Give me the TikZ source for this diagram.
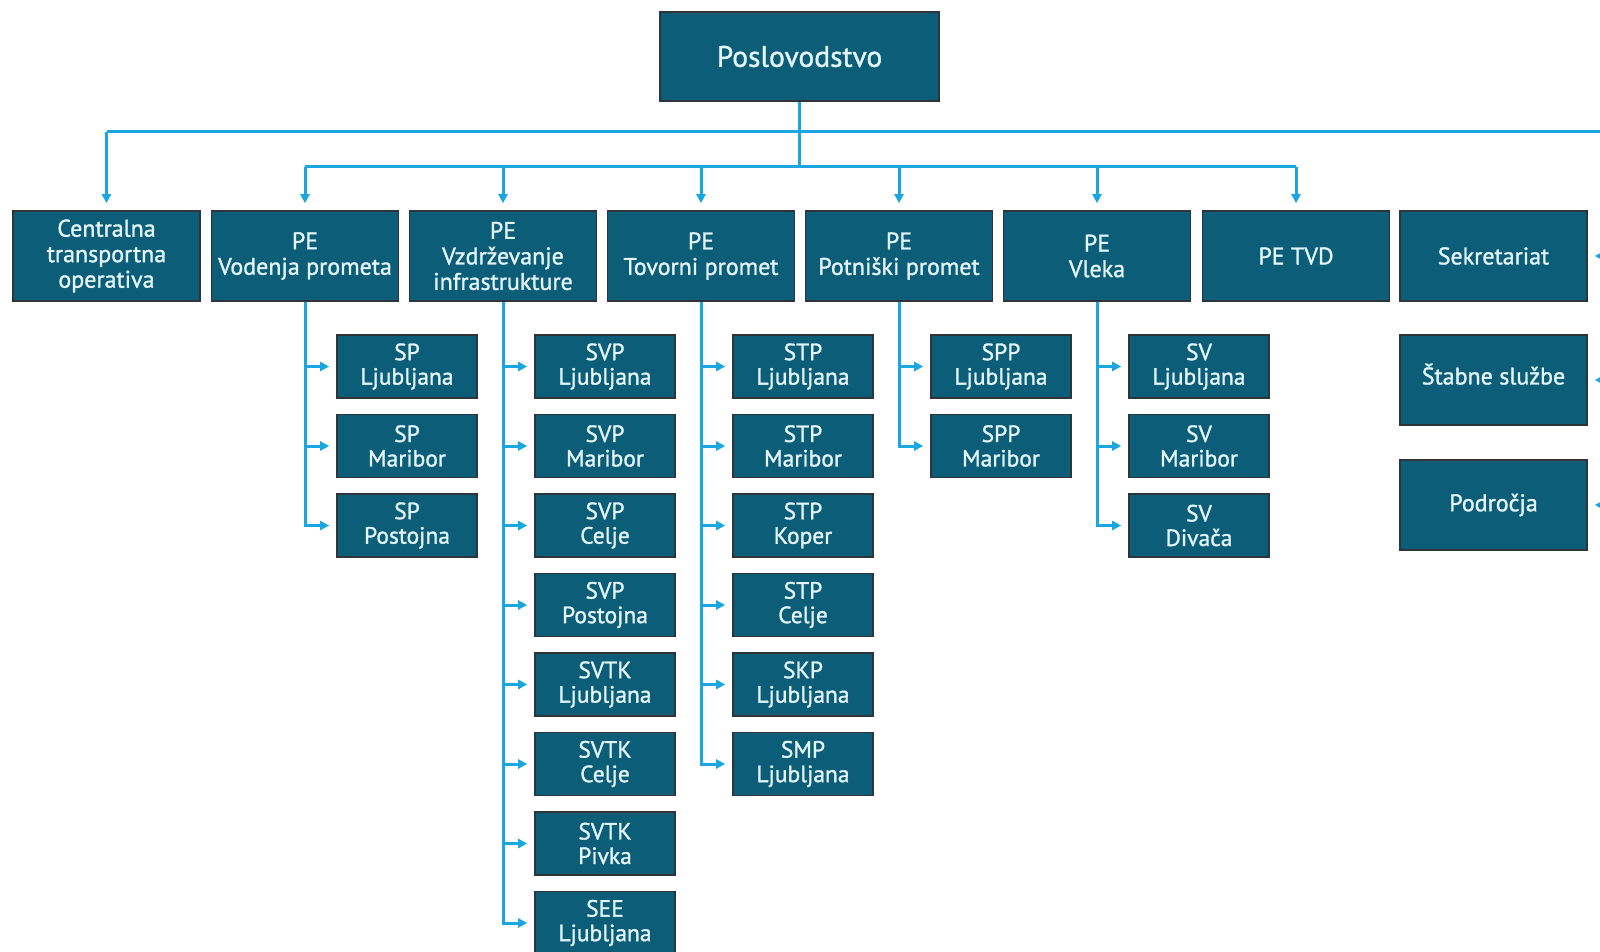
\documentclass[tikz,border=0pt]{standalone}
\usepackage{fontspec}
\setmainfont{PT Sans}[FakeBold=1.2]
\usetikzlibrary{arrows.meta}

\definecolor{boxfill}{HTML}{0C5D78}
\definecolor{boxedge}{HTML}{2E3538}
\definecolor{boxtext}{HTML}{E4F5FA}
\definecolor{wirecol}{HTML}{1AA6E0}

\tikzset{
  unitbox/.style={draw=boxedge, line width=1.6pt, fill=boxfill, text=boxtext,
    align=center, inner sep=0pt, font=\fontsize{24}{25.5}\selectfont},
  headbox/.style={unitbox, minimum width=187pt, minimum height=90pt},
  subbox/.style={unitbox, minimum width=140pt, minimum height=63pt,
    font=\fontsize{23.5}{24.5}\selectfont},
  wire/.style={draw=wirecol, line width=3pt},
  feed/.style={wire, -{Triangle[length=9pt,width=9pt]}, shorten >=7pt},
}

\begin{document}
\begin{tikzpicture}[x=1pt, y=-1pt]
\useasboundingbox[fill=white] (0,0) rectangle (1600,952);

% top management
\node[unitbox, minimum width=279pt, minimum height=89pt,
      font=\fontsize{29.5}{31}\selectfont] (poslo) at (799.5,56.5) {Poslovodstvo};

% first level units
\node[headbox] (cto)   at (106.5,256) {Centralna\\transportna\\operativa};
\node[headbox] (pev)   at (305,256)   {PE\\Vodenja prometa};
\node[headbox] (pevz)  at (503,256)   {PE\\Vzdrževanje\\infrastrukture};
\node[headbox] (pet)   at (701,256)   {PE\\Tovorni promet};
\node[headbox] (pep)   at (899,256)   {PE\\Potniški promet};
\node[headbox] (pevl)  at (1097,256)  {PE\\Vleka};
\node[headbox] (petvd) at (1296,256)  {PE TVD};
\node[headbox] (sek)   at (1493.5,256) {Sekretariat};
\node[headbox] (stab)  at (1493.5,380) {\raisebox{12pt}{Štabne službe}};
\node[headbox] (podr)  at (1493.5,505) {Področja};

% bus lines
\coordinate (bus1) at (0,132);
\coordinate (bus2) at (0,167);
\coordinate (rail) at (1610,132);

\draw[wire] (poslo.south) -- (poslo.south |- bus2);
\draw[wire] (cto.north |- bus1) -- (rail);
\draw[wire] (pev.north |- bus2) -- (petvd.north |- bus2);
\draw[feed] (cto.north |- bus1) -- (cto.north);
\foreach \u in {pev,pevz,pet,pep,pevl,petvd}
  \draw[feed] (\u.north |- bus2) -- (\u.north);
\draw[wire] (rail) -- (rail |- podr.east);
\foreach \u in {sek,stab,podr}
  \draw[feed] (rail |- \u.east) -- (\u.east);

% second level units: parent, list of (index/label)
\newcommand{\sublist}[2]{%
  \foreach \k/\txt in {#2} {
    \node[subbox] (#1-\k) at ([xshift=102pt]#1.center |- 0,{366.5+79.5*(\k-1)}) {\txt};
    \draw[feed] (#1.south) |- (#1-\k.west);
  }%
}

\sublist{pev}{1/{SP\\Ljubljana},2/{SP\\Maribor},3/{SP\\Postojna}}
\sublist{pevz}{1/{SVP\\Ljubljana},2/{SVP\\Maribor},3/{SVP\\Celje},4/{SVP\\Postojna},
  5/{SVTK\\Ljubljana},6/{SVTK\\Celje},7/{SVTK\\Pivka},8/{SEE\\Ljubljana}}
\sublist{pet}{1/{STP\\Ljubljana},2/{STP\\Maribor},3/{STP\\Koper},4/{STP\\Celje},
  5/{SKP\\Ljubljana},6/{SMP\\Ljubljana}}
\sublist{pep}{1/{SPP\\Ljubljana},2/{SPP\\Maribor}}
\sublist{pevl}{1/{SV\\Ljubljana},2/{SV\\Maribor},3/{SV\\Divača}}

\end{tikzpicture}
\end{document}
